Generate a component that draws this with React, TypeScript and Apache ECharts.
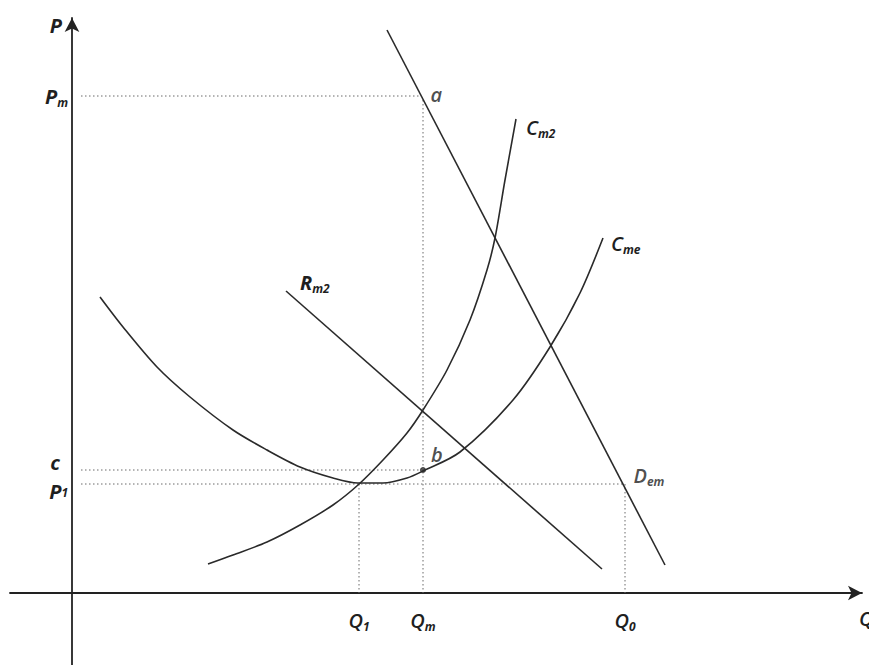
import React, { useEffect, useRef } from "react";
import * as echarts from "echarts";

// Curves (Q, P)
const demandLine: [number, number][] = [[31.5, 56.3], [59.3, 2.8]];
const revenueLine: [number, number][] = [[53.0, 2.4], [21.4, 30.2]];
const marginalCost: [number, number][] = [
  [13.6, 2.9], [16.1, 3.8], [19.5, 5.1], [22.8, 6.8], [26.1, 8.8], [28.6, 10.8],
  [31.1, 13.3], [33.5, 16.0], [35.1, 18.3], [37.5, 22.3], [39.8, 27.3], [41.5, 32.3],
  [42.3, 35.5], [43.3, 41.3], [44.4, 47.4],
];
const averageCost: [number, number][] = [
  [2.8, 29.6], [5.1, 26.6], [8.5, 22.6], [11.8, 19.6], [16.1, 16.3], [19.5, 14.3],
  [22.8, 12.6], [26.1, 11.5], [28.6, 11.0], [31.1, 11.0], [33.5, 11.5], [35.1, 12.2],
  [38.8, 14.1], [44.1, 19.3], [47.8, 24.6], [50.8, 30.0], [53.1, 35.5],
];

// Axis marks
const qValues = [28.7, 35.1, 55.3];
const qLabels = ["{q|Q}{sub|1}", "{q|Q}{sub|m}", "{q|Q}{sub|0}"];
const pValues = [10.9, 12.3, 49.7];
const pLabels = ["{p|P}{sub|1}", "{c|c}", "{p|P}{sub|m}"];

const Q1 = qValues[0], Qm = qValues[1], Q0 = qValues[2];
const P1 = pValues[0], Pc = pValues[1], Pm = pValues[2];

const FONT = "'Open Sans', 'DejaVu Sans', sans-serif";
const INK = "#1f1f1f";
const big = (weight: number, lineHeight: number) => ({
  fontFamily: FONT, fontSize: 20, fontStyle: "italic", fontWeight: weight, color: INK, lineHeight,
});
const subStyle = (lineHeight: number) => ({
  fontFamily: FONT, fontSize: 12, fontStyle: "italic", fontWeight: 700, color: INK, lineHeight, verticalAlign: "bottom",
});
const rich = { p: big(700, 24), c: big(700, 24), q: big(600, 24), r: big(600, 24), sub: subStyle(8) };
const richTight = { p: big(700, 14), c: { ...big(700, 16), padding: [0, 8, 0, 0] }, sub: subStyle(6) };

function pick(values: number[], labels: string[], v: number) {
  for (let i = 0; i < values.length; i++) if (Math.abs(values[i] - v) < 1e-6) return labels[i];
  return "";
}

const guides: [number, number][][] = [
  [[0.9, Pm], [Qm - 0.4, Pm]],
  [[Qm, Pm - 0.4], [Qm, 0]],
  [[0.9, Pc], [Qm, Pc]],
  [[0.9, P1], [Q0, P1]],
  [[Q1, P1], [Q1, 0]],
  [[Q0, P1], [Q0, 0]],
];

export default function App() {
  const ref = useRef<HTMLDivElement>(null);
  useEffect(() => {
    if (!ref.current) return;
    const chart = echarts.init(ref.current, undefined, { renderer: "svg" });
    const curveStyle = { color: "#2a2a2a", width: 1.6 };
    const hiddenLine = { show: false };
    const axisInk = { color: "#222", width: 1.8 };
    const clear = { color: "rgba(0,0,0,0)" };
    const labelAxisY = (vals: number[], verticalAlign: string, r: object) => ({
      gridIndex: 1, type: "value", min: 0, max: 57.5, position: "left", offset: 0,
      axisLine: hiddenLine, axisTick: { show: false }, splitLine: { show: false },
      axisLabel: {
        customValues: vals,
        formatter: (v: number) => pick(pValues, pLabels, v),
        margin: 4,
        verticalAlign,
        hideOverlap: false,
        rich: r,
      },
    });
    const pointLabel = (text: string, distance: number, offset: number[]) => ({
      show: true, position: "right", distance, offset, formatter: text, color: INK, rich,
    });
    chart.setOption({
      animation: false,
      backgroundColor: "#ffffff",
      grid: [
        { left: 10, right: 7, top: 18, bottom: 0, containLabel: false, outerBoundsMode: "none" },
        { left: 72, right: 7, top: 18, bottom: 72, containLabel: false, outerBoundsMode: "none" },
      ],
      xAxis: [
        {
          gridIndex: 0, type: "value", min: -6.2, max: 79,
          axisLine: { onZero: true, symbol: ["none", "arrow"], symbolSize: [11, 14], lineStyle: axisInk },
          axisTick: { show: false }, splitLine: { show: false }, axisLabel: { show: false },
          name: "Q", nameLocation: "end", nameGap: -3,
          nameTextStyle: {
            fontFamily: FONT, fontSize: 20, fontStyle: "italic", fontWeight: 600, color: INK,
            align: "left", verticalAlign: "top", padding: [15, 0, 0, 0],
          },
        },
        {
          gridIndex: 1, type: "value", min: 0, max: 79,
          axisLine: hiddenLine, axisTick: { show: false }, splitLine: { show: false },
          axisLabel: {
            customValues: qValues,
            formatter: (v: number) => pick(qValues, qLabels, v),
            margin: 15,
            hideOverlap: false,
            rich,
          },
        },
      ],
      yAxis: [
        {
          gridIndex: 0, type: "value", min: -7.2, max: 57.5,
          axisLine: { onZero: true, symbol: ["none", "arrow"], symbolSize: [11, 14], lineStyle: axisInk },
          axisTick: { show: false }, splitLine: { show: false }, axisLabel: { show: false },
          name: "P", nameLocation: "end", nameGap: -7,
          nameTextStyle: {
            fontFamily: FONT, fontSize: 20, fontStyle: "italic", fontWeight: 700, color: INK,
            align: "right", verticalAlign: "middle", padding: [0, 10, 0, 0],
          },
        },
        // Pm, c and P1 each get a label axis: c sits just above its line, P1 just below
        labelAxisY([Pm], "middle", rich),
        labelAxisY([Pc], "bottom", richTight),
        labelAxisY([P1], "top", richTight),
      ],
      series: [
        ...guides.map((g) => ({
          type: "line", xAxisIndex: 1, yAxisIndex: 1,
          data: g, symbol: "none", silent: true,
          lineStyle: { color: "#6a6a6a", width: 1, type: [1.5, 2.5] },
        })),
        {
          type: "line", name: "Dem", xAxisIndex: 1, yAxisIndex: 1,
          data: demandLine, symbol: "none", lineStyle: curveStyle,
        },
        {
          type: "line", name: "Rm2", xAxisIndex: 1, yAxisIndex: 1,
          data: revenueLine, symbol: "none", lineStyle: curveStyle,
          endLabel: { show: true, formatter: "{p|R}{sub|m2}", rich, offset: [6, -9] },
        },
        {
          type: "line", name: "Cm2", xAxisIndex: 1, yAxisIndex: 1,
          data: marginalCost, symbol: "none", smooth: 0.3, lineStyle: curveStyle,
          endLabel: { show: true, formatter: "{r|C}{sub|m2}", rich, offset: [2, 8] },
        },
        {
          type: "line", name: "Cme", xAxisIndex: 1, yAxisIndex: 1,
          data: averageCost, symbol: "none", smooth: 0.3, lineStyle: curveStyle,
          endLabel: { show: true, formatter: "{r|C}{sub|me}", rich, offset: [0, 5] },
        },
        {
          type: "scatter", xAxisIndex: 1, yAxisIndex: 1, silent: true,
          data: [
            { value: [Qm, Pm], symbolSize: 1, itemStyle: clear, label: pointLabel("{r|a}", 6, [1, -2]) },
            { value: [Qm, Pc], symbolSize: 6, itemStyle: { color: "#111" }, label: pointLabel("{r|b}", 4, [1, -16]) },
            { value: [Q0, P1], symbolSize: 1, itemStyle: clear, label: pointLabel("{r|D}{sub|em}", 8, [0, -9]) },
          ],
        },
      ],
    });
    return () => chart.dispose();
  }, []);
  return (
    <div
      ref={ref}
      style={{ position: "fixed", left: 0, top: 0, width: 869, height: 665, background: "#fff" }}
    />
  );
}
